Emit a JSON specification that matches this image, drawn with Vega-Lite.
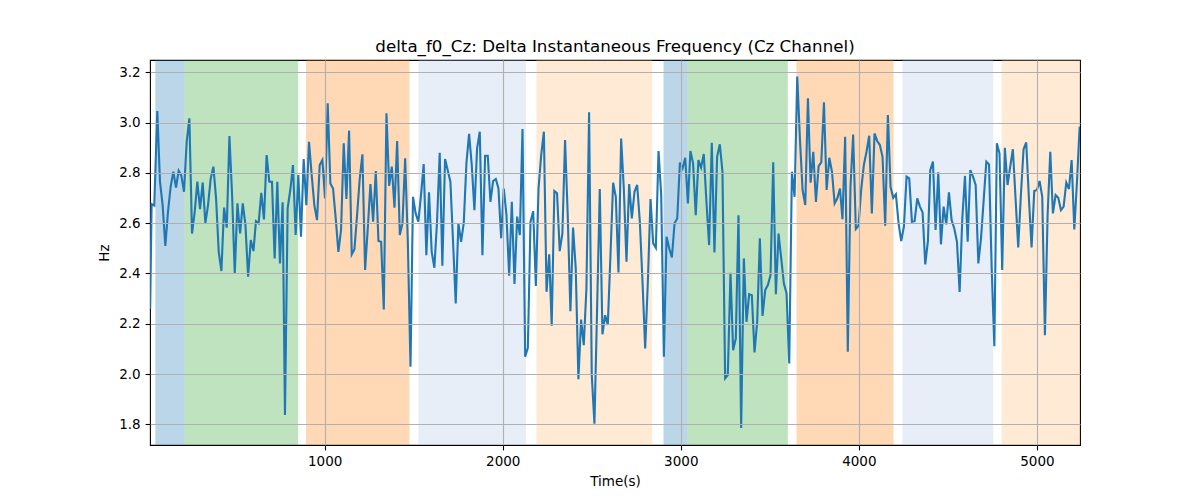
{
  "$schema": "https://vega.github.io/schema/vega-lite/v6.json",
  "width": 930,
  "height": 385,
  "autosize": {"type": "none"},
  "padding": {"left": 150, "top": 60, "right": 120, "bottom": 55},
  "background": "white",
  "config": {
    "font": "DejaVu Sans",
    "view": {"stroke": "black", "strokeWidth": 1.1},
    "axis": {
      "domain": false,
      "labelFont": "DejaVu Sans",
      "titleFont": "DejaVu Sans",
      "labelFontSize": 13.5,
      "titleFontSize": 13.5,
      "titleFontWeight": "normal",
      "labelColor": "black",
      "titleColor": "black",
      "tickColor": "black",
      "tickSize": 4.9,
      "tickWidth": 1.1,
      "labelPadding": 4.9,
      "grid": true,
      "gridColor": "#b0b0b0",
      "gridWidth": 1.1
    }
  },
  "title": {
    "text": "delta_f0_Cz: Delta Instantaneous Frequency (Cz Channel)",
    "font": "DejaVu Sans",
    "fontSize": 16.7,
    "fontWeight": "normal",
    "color": "black",
    "offset": 4
  },
  "datasets": {
    "bands": [
      {"start": 49, "end": 212, "phase": "A"},
      {"start": 212, "end": 851, "phase": "B"},
      {"start": 895, "end": 1476, "phase": "C"},
      {"start": 1526, "end": 2131, "phase": "D"},
      {"start": 2189, "end": 2839, "phase": "E"},
      {"start": 2903, "end": 3037, "phase": "A"},
      {"start": 3037, "end": 3601, "phase": "B"},
      {"start": 3650, "end": 4195, "phase": "C"},
      {"start": 4245, "end": 4755, "phase": "D"},
      {"start": 4802, "end": 5242, "phase": "E"}
    ],
    "series": [
      {"t": 20, "hz": 2.26}, {"t": 28, "hz": 2.676}, {"t": 43, "hz": 2.67}, {"t": 60, "hz": 3.046},
      {"t": 75, "hz": 2.765}, {"t": 90, "hz": 2.672}, {"t": 105, "hz": 2.51}, {"t": 120, "hz": 2.645},
      {"t": 135, "hz": 2.745}, {"t": 150, "hz": 2.805}, {"t": 165, "hz": 2.742}, {"t": 180, "hz": 2.809},
      {"t": 195, "hz": 2.789}, {"t": 210, "hz": 2.725}, {"t": 225, "hz": 2.924}, {"t": 240, "hz": 3.017},
      {"t": 255, "hz": 2.559}, {"t": 270, "hz": 2.645}, {"t": 285, "hz": 2.765}, {"t": 300, "hz": 2.656},
      {"t": 315, "hz": 2.762}, {"t": 330, "hz": 2.6}, {"t": 345, "hz": 2.672}, {"t": 360, "hz": 2.778},
      {"t": 375, "hz": 2.825}, {"t": 390, "hz": 2.699}, {"t": 405, "hz": 2.486}, {"t": 420, "hz": 2.41},
      {"t": 435, "hz": 2.662}, {"t": 450, "hz": 2.582}, {"t": 465, "hz": 2.947}, {"t": 480, "hz": 2.712},
      {"t": 495, "hz": 2.4}, {"t": 510, "hz": 2.679}, {"t": 525, "hz": 2.559}, {"t": 540, "hz": 2.679},
      {"t": 555, "hz": 2.593}, {"t": 570, "hz": 2.387}, {"t": 585, "hz": 2.533}, {"t": 600, "hz": 2.489},
      {"t": 614, "hz": 2.608}, {"t": 629, "hz": 2.6}, {"t": 644, "hz": 2.721}, {"t": 659, "hz": 2.615},
      {"t": 674, "hz": 2.871}, {"t": 689, "hz": 2.765}, {"t": 704, "hz": 2.765}, {"t": 719, "hz": 2.46},
      {"t": 734, "hz": 2.765}, {"t": 749, "hz": 2.44}, {"t": 764, "hz": 2.683}, {"t": 777, "hz": 1.837},
      {"t": 792, "hz": 2.659}, {"t": 807, "hz": 2.732}, {"t": 822, "hz": 2.831}, {"t": 837, "hz": 2.553},
      {"t": 852, "hz": 2.792}, {"t": 867, "hz": 2.546}, {"t": 882, "hz": 2.855}, {"t": 897, "hz": 2.672},
      {"t": 912, "hz": 2.924}, {"t": 927, "hz": 2.792}, {"t": 942, "hz": 2.672}, {"t": 957, "hz": 2.612},
      {"t": 972, "hz": 2.831}, {"t": 987, "hz": 2.851}, {"t": 1002, "hz": 2.699}, {"t": 1017, "hz": 3.077},
      {"t": 1032, "hz": 2.758}, {"t": 1047, "hz": 2.738}, {"t": 1062, "hz": 2.619}, {"t": 1077, "hz": 2.486},
      {"t": 1092, "hz": 2.573}, {"t": 1107, "hz": 2.918}, {"t": 1122, "hz": 2.696}, {"t": 1137, "hz": 2.968},
      {"t": 1152, "hz": 2.476}, {"t": 1167, "hz": 2.496}, {"t": 1182, "hz": 2.632}, {"t": 1197, "hz": 2.778},
      {"t": 1212, "hz": 2.874}, {"t": 1227, "hz": 2.414}, {"t": 1242, "hz": 2.579}, {"t": 1257, "hz": 2.756},
      {"t": 1272, "hz": 2.606}, {"t": 1287, "hz": 2.807}, {"t": 1302, "hz": 2.529}, {"t": 1317, "hz": 2.526},
      {"t": 1332, "hz": 2.257}, {"t": 1347, "hz": 3.037}, {"t": 1362, "hz": 2.749}, {"t": 1377, "hz": 2.825},
      {"t": 1392, "hz": 2.662}, {"t": 1407, "hz": 2.927}, {"t": 1422, "hz": 2.553}, {"t": 1437, "hz": 2.6},
      {"t": 1452, "hz": 2.858}, {"t": 1467, "hz": 2.526}, {"t": 1482, "hz": 2.029}, {"t": 1496, "hz": 2.705},
      {"t": 1511, "hz": 2.639}, {"t": 1526, "hz": 2.606}, {"t": 1541, "hz": 2.712}, {"t": 1556, "hz": 2.835},
      {"t": 1571, "hz": 2.473}, {"t": 1586, "hz": 2.723}, {"t": 1601, "hz": 2.486}, {"t": 1616, "hz": 2.423},
      {"t": 1631, "hz": 2.606}, {"t": 1646, "hz": 2.88}, {"t": 1661, "hz": 2.431}, {"t": 1676, "hz": 2.855},
      {"t": 1691, "hz": 2.811}, {"t": 1706, "hz": 2.765}, {"t": 1721, "hz": 2.526}, {"t": 1736, "hz": 2.281},
      {"t": 1751, "hz": 2.6}, {"t": 1766, "hz": 2.526}, {"t": 1781, "hz": 2.6}, {"t": 1796, "hz": 2.838},
      {"t": 1811, "hz": 2.955}, {"t": 1826, "hz": 2.831}, {"t": 1841, "hz": 2.652}, {"t": 1856, "hz": 2.898},
      {"t": 1871, "hz": 2.964}, {"t": 1886, "hz": 2.473}, {"t": 1901, "hz": 2.868}, {"t": 1916, "hz": 2.868},
      {"t": 1931, "hz": 2.685}, {"t": 1946, "hz": 2.768}, {"t": 1961, "hz": 2.776}, {"t": 1976, "hz": 2.738},
      {"t": 1991, "hz": 2.54}, {"t": 2006, "hz": 2.738}, {"t": 2021, "hz": 2.632}, {"t": 2036, "hz": 2.391},
      {"t": 2051, "hz": 2.685}, {"t": 2066, "hz": 2.358}, {"t": 2081, "hz": 2.626}, {"t": 2096, "hz": 2.553},
      {"t": 2111, "hz": 2.975}, {"t": 2126, "hz": 2.069}, {"t": 2141, "hz": 2.104}, {"t": 2156, "hz": 2.606},
      {"t": 2171, "hz": 2.648}, {"t": 2186, "hz": 2.35}, {"t": 2201, "hz": 2.738}, {"t": 2216, "hz": 2.871},
      {"t": 2231, "hz": 2.964}, {"t": 2246, "hz": 2.327}, {"t": 2261, "hz": 2.476}, {"t": 2275, "hz": 2.192},
      {"t": 2290, "hz": 2.728}, {"t": 2305, "hz": 2.719}, {"t": 2320, "hz": 2.489}, {"t": 2335, "hz": 2.559},
      {"t": 2350, "hz": 2.931}, {"t": 2365, "hz": 2.632}, {"t": 2380, "hz": 2.25}, {"t": 2395, "hz": 2.583},
      {"t": 2410, "hz": 2.42}, {"t": 2425, "hz": 1.98}, {"t": 2440, "hz": 2.217}, {"t": 2455, "hz": 2.115},
      {"t": 2470, "hz": 2.34}, {"t": 2485, "hz": 3.041}, {"t": 2500, "hz": 1.996}, {"t": 2515, "hz": 1.803},
      {"t": 2530, "hz": 2.261}, {"t": 2545, "hz": 2.736}, {"t": 2560, "hz": 2.158}, {"t": 2575, "hz": 2.234},
      {"t": 2590, "hz": 2.195}, {"t": 2605, "hz": 2.473}, {"t": 2620, "hz": 2.761}, {"t": 2635, "hz": 2.705},
      {"t": 2650, "hz": 2.404}, {"t": 2665, "hz": 2.937}, {"t": 2680, "hz": 2.738}, {"t": 2695, "hz": 2.447},
      {"t": 2710, "hz": 2.756}, {"t": 2725, "hz": 2.619}, {"t": 2740, "hz": 2.725}, {"t": 2755, "hz": 2.752},
      {"t": 2770, "hz": 2.606}, {"t": 2785, "hz": 2.367}, {"t": 2800, "hz": 2.102}, {"t": 2815, "hz": 2.367},
      {"t": 2830, "hz": 2.696}, {"t": 2845, "hz": 2.52}, {"t": 2860, "hz": 2.502}, {"t": 2875, "hz": 2.887},
      {"t": 2890, "hz": 2.712}, {"t": 2905, "hz": 2.069}, {"t": 2920, "hz": 2.546}, {"t": 2935, "hz": 2.5},
      {"t": 2950, "hz": 2.464}, {"t": 2965, "hz": 2.6}, {"t": 2980, "hz": 2.619}, {"t": 2995, "hz": 2.841},
      {"t": 3010, "hz": 2.818}, {"t": 3025, "hz": 2.86}, {"t": 3040, "hz": 2.679}, {"t": 3054, "hz": 2.887},
      {"t": 3069, "hz": 2.838}, {"t": 3084, "hz": 2.632}, {"t": 3099, "hz": 2.851}, {"t": 3114, "hz": 2.821},
      {"t": 3129, "hz": 2.875}, {"t": 3144, "hz": 2.685}, {"t": 3159, "hz": 2.513}, {"t": 3174, "hz": 2.92},
      {"t": 3189, "hz": 2.484}, {"t": 3204, "hz": 2.864}, {"t": 3219, "hz": 2.914}, {"t": 3234, "hz": 2.805},
      {"t": 3249, "hz": 1.983}, {"t": 3264, "hz": 1.996}, {"t": 3279, "hz": 2.403}, {"t": 3294, "hz": 2.095},
      {"t": 3309, "hz": 2.142}, {"t": 3324, "hz": 2.632}, {"t": 3339, "hz": 1.786}, {"t": 3354, "hz": 2.46},
      {"t": 3369, "hz": 2.208}, {"t": 3384, "hz": 2.318}, {"t": 3399, "hz": 2.314}, {"t": 3414, "hz": 2.086},
      {"t": 3429, "hz": 2.208}, {"t": 3444, "hz": 2.54}, {"t": 3459, "hz": 2.231}, {"t": 3474, "hz": 2.334},
      {"t": 3489, "hz": 2.354}, {"t": 3504, "hz": 2.394}, {"t": 3519, "hz": 2.842}, {"t": 3534, "hz": 2.318},
      {"t": 3549, "hz": 2.559}, {"t": 3564, "hz": 2.46}, {"t": 3579, "hz": 2.36}, {"t": 3594, "hz": 2.321},
      {"t": 3609, "hz": 2.042}, {"t": 3624, "hz": 2.805}, {"t": 3639, "hz": 2.705}, {"t": 3654, "hz": 3.183},
      {"t": 3669, "hz": 2.937}, {"t": 3684, "hz": 2.732}, {"t": 3699, "hz": 2.672}, {"t": 3714, "hz": 3.097},
      {"t": 3729, "hz": 2.761}, {"t": 3744, "hz": 2.884}, {"t": 3759, "hz": 2.685}, {"t": 3774, "hz": 2.827},
      {"t": 3789, "hz": 2.842}, {"t": 3804, "hz": 3.081}, {"t": 3819, "hz": 2.732}, {"t": 3834, "hz": 2.86},
      {"t": 3849, "hz": 2.805}, {"t": 3864, "hz": 2.679}, {"t": 3879, "hz": 2.699}, {"t": 3894, "hz": 2.738},
      {"t": 3908, "hz": 2.616}, {"t": 3923, "hz": 2.944}, {"t": 3938, "hz": 2.089}, {"t": 3953, "hz": 2.745},
      {"t": 3968, "hz": 2.953}, {"t": 3983, "hz": 2.577}, {"t": 3998, "hz": 2.59}, {"t": 4013, "hz": 2.732},
      {"t": 4028, "hz": 2.831}, {"t": 4043, "hz": 2.884}, {"t": 4058, "hz": 2.948}, {"t": 4073, "hz": 2.639},
      {"t": 4088, "hz": 2.957}, {"t": 4103, "hz": 2.927}, {"t": 4118, "hz": 2.911}, {"t": 4133, "hz": 2.864},
      {"t": 4148, "hz": 2.59}, {"t": 4163, "hz": 3.03}, {"t": 4178, "hz": 2.745}, {"t": 4193, "hz": 2.701},
      {"t": 4208, "hz": 2.715}, {"t": 4223, "hz": 2.6}, {"t": 4238, "hz": 2.529}, {"t": 4253, "hz": 2.586},
      {"t": 4268, "hz": 2.785}, {"t": 4283, "hz": 2.778}, {"t": 4298, "hz": 2.606}, {"t": 4313, "hz": 2.608},
      {"t": 4328, "hz": 2.699}, {"t": 4343, "hz": 2.666}, {"t": 4358, "hz": 2.643}, {"t": 4373, "hz": 2.436},
      {"t": 4388, "hz": 2.53}, {"t": 4401, "hz": 2.811}, {"t": 4416, "hz": 2.845}, {"t": 4431, "hz": 2.573},
      {"t": 4446, "hz": 2.802}, {"t": 4461, "hz": 2.516}, {"t": 4476, "hz": 2.666}, {"t": 4491, "hz": 2.595},
      {"t": 4506, "hz": 2.723}, {"t": 4521, "hz": 2.612}, {"t": 4536, "hz": 2.579}, {"t": 4551, "hz": 2.526},
      {"t": 4566, "hz": 2.327}, {"t": 4581, "hz": 2.619}, {"t": 4596, "hz": 2.788}, {"t": 4611, "hz": 2.526},
      {"t": 4626, "hz": 2.811}, {"t": 4641, "hz": 2.785}, {"t": 4656, "hz": 2.752}, {"t": 4671, "hz": 2.44},
      {"t": 4686, "hz": 2.54}, {"t": 4701, "hz": 2.692}, {"t": 4716, "hz": 2.845}, {"t": 4731, "hz": 2.834},
      {"t": 4746, "hz": 2.42}, {"t": 4761, "hz": 2.111}, {"t": 4775, "hz": 2.918}, {"t": 4790, "hz": 2.878},
      {"t": 4805, "hz": 2.414}, {"t": 4820, "hz": 2.9}, {"t": 4835, "hz": 2.752}, {"t": 4850, "hz": 2.825},
      {"t": 4865, "hz": 2.894}, {"t": 4880, "hz": 2.699}, {"t": 4895, "hz": 2.504}, {"t": 4910, "hz": 2.712},
      {"t": 4925, "hz": 2.894}, {"t": 4940, "hz": 2.921}, {"t": 4955, "hz": 2.699}, {"t": 4970, "hz": 2.504},
      {"t": 4985, "hz": 2.728}, {"t": 5000, "hz": 2.732}, {"t": 5015, "hz": 2.768}, {"t": 5030, "hz": 2.705},
      {"t": 5045, "hz": 2.155}, {"t": 5060, "hz": 2.632}, {"t": 5075, "hz": 2.884}, {"t": 5090, "hz": 2.639},
      {"t": 5105, "hz": 2.712}, {"t": 5120, "hz": 2.701}, {"t": 5135, "hz": 2.652}, {"t": 5150, "hz": 2.666},
      {"t": 5165, "hz": 2.761}, {"t": 5180, "hz": 2.736}, {"t": 5195, "hz": 2.851}, {"t": 5210, "hz": 2.575},
      {"t": 5225, "hz": 2.765}, {"t": 5240, "hz": 2.984}
    ]
  },
  "layer": [
    {
      "data": {"name": "bands"},
      "mark": {"type": "rect", "clip": true, "fillOpacity": 0.3, "strokeOpacity": 0.3, "strokeWidth": 1},
      "encoding": {
        "x": {"field": "start", "type": "quantitative", "scale": {"domain": [19, 5242], "nice": false, "zero": false}},
        "x2": {"field": "end"},
        "color": {
          "field": "phase",
          "type": "nominal",
          "legend": null,
          "scale": {
            "domain": ["A", "B", "C", "D", "E"],
            "range": ["#1f77b4", "#2ca02c", "#ff7f0e", "#aec7e8", "#ffbb78"]
          }
        }
      }
    },
    {
      "data": {"name": "series"},
      "mark": {"type": "line", "color": "#1f77b4", "strokeWidth": 2.1, "clip": true},
      "encoding": {
        "x": {
          "field": "t",
          "type": "quantitative",
          "title": "Time(s)",
          "scale": {"domain": [19, 5242], "nice": false, "zero": false},
          "axis": {"values": [1000, 2000, 3000, 4000, 5000], "format": "d", "titlePadding": 6, "zindex": 1}
        },
        "y": {
          "field": "hz",
          "type": "quantitative",
          "title": "Hz",
          "scale": {"domain": [1.718, 3.249], "nice": false, "zero": false},
          "axis": {"values": [1.8, 2.0, 2.2, 2.4, 2.6, 2.8, 3.0, 3.2], "format": ".1f", "titlePadding": 7, "zindex": 1}
        }
      }
    }
  ]
}
